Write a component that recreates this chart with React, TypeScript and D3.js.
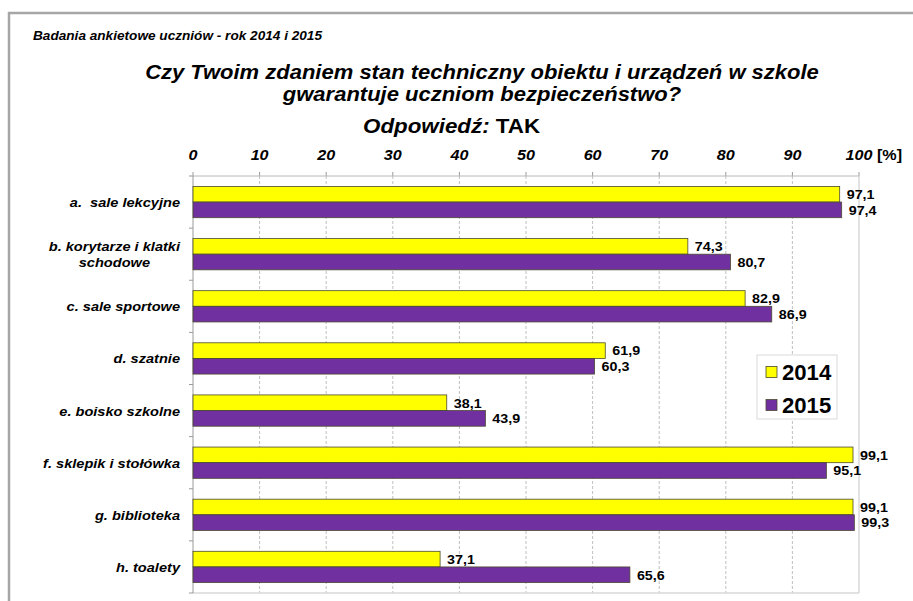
import React, { useEffect, useRef } from "react";
import * as d3 from "d3";

const categories: string[][] = [
  ["a.  sale lekcyjne"],
  ["b. korytarze i klatki", "schodowe"],
  ["c. sale sportowe"],
  ["d. szatnie"],
  ["e. boisko szkolne"],
  ["f. sklepik i stołówka"],
  ["g. biblioteka"],
  ["h. toalety"],
];
const series = ["2014", "2015"];
const values2014 = [97.1, 74.3, 82.9, 61.9, 38.1, 99.1, 99.1, 37.1];
const values2015 = [97.4, 80.7, 86.9, 60.3, 43.9, 95.1, 99.3, 65.6];
const xTicks = [0, 10, 20, 30, 40, 50, 60, 70, 80, 90, 100];
const colors = ["#FFFF00", "#7030A0"];

const W = 913;
const H = 601;
const FONT = "'Liberation Sans', Arial, sans-serif";

type Sel = d3.Selection<any, unknown, null, undefined>;

function txt(
  parent: Sel,
  x: number,
  y: number,
  str: string,
  size: number,
  opts: { italic?: boolean; anchor?: string; sx?: number; dy?: string } = {}
) {
  const sx = opts.sx ?? 1.08;
  return parent
    .append("text")
    .attr("transform", `translate(${x},${y}) scale(${sx},1)`)
    .attr("x", 0)
    .attr("y", 0)
    .attr("dy", opts.dy ?? null)
    .attr("text-anchor", opts.anchor ?? "start")
    .attr("font-family", FONT)
    .attr("font-size", size)
    .attr("font-weight", "bold")
    .attr("font-style", opts.italic ? "italic" : "normal")
    .attr("fill", "#000")
    .style("white-space", "pre")
    .text(str);
}

export default function App() {
  const ref = useRef<SVGSVGElement | null>(null);

  useEffect(() => {
    const svg = d3.select(ref.current) as unknown as Sel;
    svg.selectAll("*").remove();

    const left = 193, right = 859, top = 176, bottom = 593;
    const x = d3.scaleLinear().domain([0, 100]).range([left, right]);
    const keys = categories.map((c) => c.join(" "));
    const y = d3.scaleBand<string>().domain(keys).range([top, bottom]).paddingInner(0.4).paddingOuter(0.2);
    const yOuter = d3.scaleBand<string>().domain(keys).range([top, bottom]).padding(0);
    const ys = d3.scaleBand<string>().domain(series).range([0, y.bandwidth()]).padding(0);
    const data = [values2014, values2015];

    svg.append("rect").attr("width", W).attr("height", H).attr("fill", "#fff");

    // frame
    svg.append("line").attr("x1", 8).attr("x2", W).attr("y1", 13).attr("y2", 13)
      .attr("stroke", "#a6a6a6").attr("stroke-width", 2.5);
    svg.append("line").attr("x1", 9).attr("x2", 9).attr("y1", 12).attr("y2", H)
      .attr("stroke", "#a6a6a6").attr("stroke-width", 2.5);

    // titles
    txt(svg, 33, 40, "Badania ankietowe uczniów - rok 2014 i 2015", 12.5, { italic: true, sx: 1.09 });
    txt(svg, 482, 79, "Czy Twoim zdaniem stan techniczny obiektu i urządzeń w szkole", 20, { italic: true, anchor: "middle", sx: 1.1 });
    txt(svg, 482, 101, "gwarantuje uczniom bezpieczeństwo?", 20, { italic: true, anchor: "middle", sx: 1.1 });
    const o = svg.append("text").attr("transform", "translate(363,133) scale(1.09,1)")
      .attr("font-family", FONT).attr("font-size", 20.5).attr("font-weight", "bold");
    o.append("tspan").attr("font-style", "italic").text("Odpowiedź: ");
    o.append("tspan").text("TAK");

    // grid
    const g = svg.append("g");
    xTicks.forEach((v) => {
      if (v > 0 && v < 100) {
        g.append("line").attr("x1", x(v)).attr("x2", x(v)).attr("y1", top).attr("y2", bottom)
          .attr("stroke", "#b0b0b0").attr("stroke-width", 0.8).attr("stroke-dasharray", "3,2");
      }
      g.append("line").attr("x1", x(v)).attr("x2", x(v)).attr("y1", top - 4).attr("y2", top)
        .attr("stroke", "#9a9a9a").attr("stroke-width", 1);
    });
    g.append("line").attr("x1", x(100)).attr("x2", x(100)).attr("y1", top).attr("y2", bottom)
      .attr("stroke", "#d9d9d9").attr("stroke-width", 1.5);
    g.append("line").attr("x1", left).attr("x2", right).attr("y1", top).attr("y2", top)
      .attr("stroke", "#b8b8b8").attr("stroke-width", 1);
    g.append("line").attr("x1", left).attr("x2", right).attr("y1", bottom).attr("y2", bottom)
      .attr("stroke", "#d9d9d9").attr("stroke-width", 1.5);
    g.append("line").attr("x1", left).attr("x2", left).attr("y1", top).attr("y2", bottom)
      .attr("stroke", "#9a9a9a").attr("stroke-width", 1);
    keys.forEach((k) => {
      g.append("line").attr("x1", left - 4).attr("x2", left).attr("y1", yOuter(k)!).attr("y2", yOuter(k)!)
        .attr("stroke", "#9a9a9a");
    });
    g.append("line").attr("x1", left - 4).attr("x2", left).attr("y1", bottom).attr("y2", bottom)
      .attr("stroke", "#9a9a9a");

    // tick labels
    xTicks.forEach((v) => {
      txt(svg, x(v), 160, String(v), 15.5, { italic: true, anchor: "middle", sx: 1.04 });
    });
    txt(svg, x(100) + 18, 160, "[%]", 15.5, { sx: 1.04 });

    // bars
    keys.forEach((k, i) => {
      series.forEach((s, si) => {
        const v = data[si][i];
        const by = y(k)! + ys(s)!;
        svg.append("rect").attr("x", x(0)).attr("y", by).attr("width", x(v) - x(0))
          .attr("height", ys.bandwidth()).attr("fill", colors[si])
          .attr("stroke", "#4a4a30").attr("stroke-width", 0.8);
        txt(svg, x(v) + 7, by + ys.bandwidth() / 2, v.toFixed(1).replace(".", ","), 13.5, { dy: "0.36em", sx: 1.06 });
      });
    });

    // category labels
    categories.forEach((lines, i) => {
      const k = keys[i];
      const cy = y(k)! + y.bandwidth() / 2;
      const n = lines.length;
      const sx = 1.08;
      const first = txt(svg, 180, cy + 5 - (n - 1) * 8, lines[0], 13.5, { italic: true, anchor: "end", sx });
      if (n > 1) {
        const w = (first.node() as SVGTextElement).getComputedTextLength() * sx;
        for (let j = 1; j < n; j++) {
          txt(svg, 180 - w / 2, cy + 5 - (n - 1) * 8 + j * 16, lines[j], 13.5, { italic: true, anchor: "middle", sx });
        }
      }
    });

    // legend
    const lg = svg.append("g");
    lg.append("rect").attr("x", 757).attr("y", 355).attr("width", 80).attr("height", 64)
      .attr("fill", "#fff").attr("stroke", "#d9d9d9").attr("stroke-width", 1);
    series.forEach((s, si) => {
      const cy = 372 + si * 33;
      lg.append("rect").attr("x", 766).attr("y", cy - 5.5).attr("width", 11).attr("height", 11)
        .attr("fill", colors[si]).attr("stroke", "#4a4a30").attr("stroke-width", 0.8);
      txt(lg, 782, cy, s, 21.5, { dy: "0.36em", sx: 1.03 });
    });
  }, []);

  return (
    <svg ref={ref} width={W} height={H} style={{ position: "absolute", left: 0, top: 0 }} />
  );
}
